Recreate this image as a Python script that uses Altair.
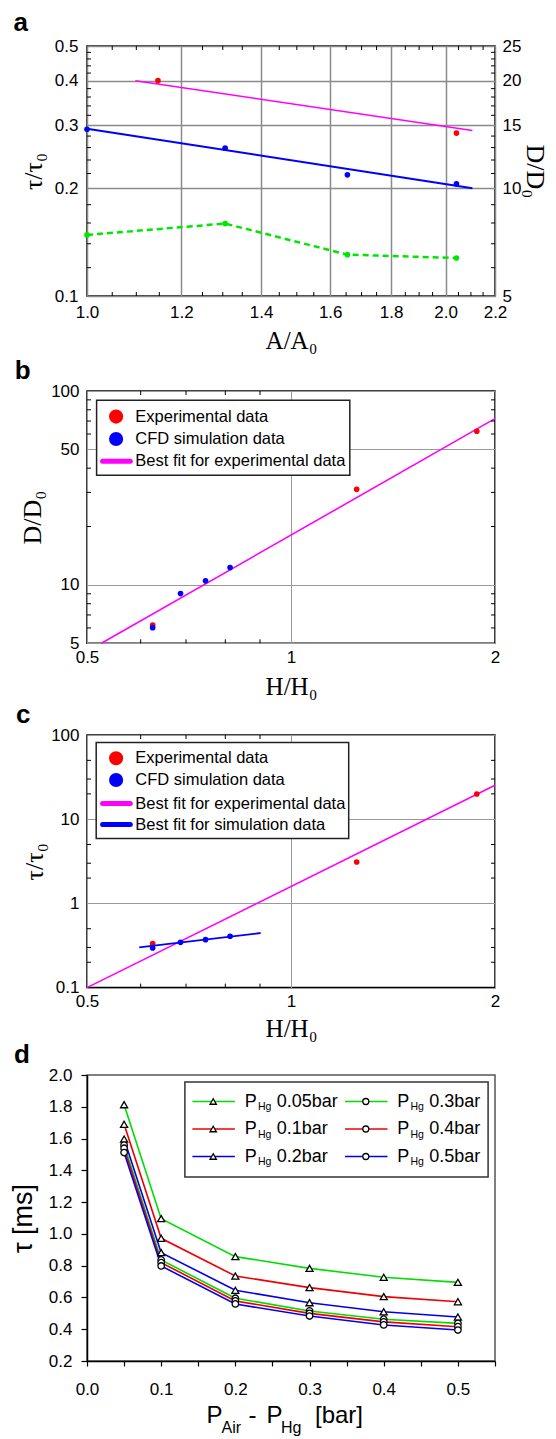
import altair as alt
import pandas as pd

SANS = "Liberation Sans, Arial, sans-serif"
SERIF = "Liberation Serif, DejaVu Serif, serif"
RED, BLUE, MAG, GRN = "#ff0000", "#0000ff", "#ff00ff", "#00e600"

# ================= data =================
# panel a
a_x = [1.0, 1.306, 1.654, 2.042]
a_tau_sim = [0.2925, 0.259, 0.2182, 0.2058]
a_tau_green = [0.1482, 0.1594, 0.1305, 0.1277]
a_x_exp = [1.147, 2.042]
a_D_exp = [20.0, 14.27]
a_fitD_x = [1.098, 2.106]
a_fitD = [20.0, 14.5]
a_fitT_x = [1.0, 2.106]
a_fitT = [0.2934, 0.2002]
a_xticks = [1.0, 1.2, 1.4, 1.6, 1.8, 2.0, 2.2]
a_yticks = [0.1, 0.2, 0.3, 0.4, 0.5]
a_Dticks = [5, 10, 15, 20, 25]
a_xminor = [1.05, 1.1, 1.15, 1.25, 1.3, 1.35, 1.45, 1.5, 1.55, 1.65, 1.7, 1.75,
            1.85, 1.9, 1.95, 2.05, 2.1, 2.15]
a_yminor = [0.12, 0.14, 0.16, 0.18, 0.22, 0.24, 0.26, 0.28, 0.32, 0.34, 0.36, 0.38,
            0.42, 0.44, 0.46, 0.48]
a_Dminor = [6, 7, 8, 9, 11, 12, 13, 14, 16, 17, 18, 19, 21, 22, 23, 24]

# panel b
b_exp_H = [0.625, 1.25, 1.88]
b_exp_D = [6.21, 31.1, 62.0]
b_sim_H = [0.625, 0.687, 0.748, 0.813]
b_sim_D = [6.02, 9.02, 10.5, 12.3]
b_fit_H = [0.525, 2.0]
b_fit_D = [5.0, 72.0]
b_xticks = [0.5, 1, 2]
b_yticks = [5, 10, 50, 100]
b_xminor = [0.6, 0.7, 0.8, 0.9]
b_yminor = [6, 7, 8, 9, 20, 30, 40, 60, 70, 80, 90]
b_legend = ["Experimental data", "CFD simulation data", "Best fit for experimental data"]

# panel c
c_exp_H = [0.625, 1.25, 1.88]
c_exp_tau = [0.333, 3.1, 19.9]
c_sim_H = [0.625, 0.687, 0.748, 0.813]
c_sim_tau = [0.295, 0.345, 0.371, 0.407]
c_fitexp_H = [0.5, 2.0]
c_fitexp_tau = [0.1, 25.3]
c_fitsim_H = [0.597, 0.902]
c_fitsim_tau = [0.30, 0.445]
c_yticks = [0.1, 1, 10, 100]
c_yminor = [0.2, 0.3, 0.5, 2, 3, 5, 20, 30, 50]
c_legend = ["Experimental data", "CFD simulation data",
            "Best fit for experimental data", "Best fit for simulation data"]

# panel d
d_dp = [0.05, 0.1, 0.2, 0.3, 0.4, 0.5]
d_series = ["0.05", "0.1", "0.2", "0.3", "0.4", "0.5"]
d_tau_005 = [1.813, 1.096, 0.857, 0.783, 0.727, 0.695]
d_tau_01 = [1.690, 0.972, 0.735, 0.662, 0.605, 0.573]
d_tau_02 = [1.597, 0.882, 0.645, 0.567, 0.510, 0.477]
d_tau_03 = [1.559, 0.836, 0.595, 0.515, 0.463, 0.437]
d_tau_04 = [1.539, 0.819, 0.578, 0.500, 0.446, 0.416]
d_tau_05 = [1.512, 0.798, 0.559, 0.483, 0.427, 0.395]
d_xticks = [round(0.05 * i, 2) for i in range(12)]
d_yticks = [round(0.2 * i, 1) for i in range(1, 11)]

# ================= styles / layout =================
W = 408
HA, HB, HC, HD = 250, 252.3, 252.6, 286
d_colors = ["#00dd00", "#ee0000", "#0000ee", "#00dd00", "#ee0000", "#0000ee"]
d_shapes = ["tri", "tri", "tri", "circ", "circ", "circ"]


def panel_label(letter, dx, dy):
    return alt.Chart(pd.DataFrame({"t": [letter]})).mark_text(
        font=SANS, fontSize=26, fontWeight="bold", align="left",
        baseline="alphabetic", color="black"
    ).encode(text="t:N", x=alt.value(dx), y=alt.value(dy))


def extent(top, bottom):
    """invisible marks that fix how far a panel reaches above and below its plot"""
    df = pd.DataFrame({"k": [0]})
    t = alt.Chart(df).mark_rule(strokeOpacity=0, opacity=0, strokeWidth=0.01).encode(
        x=alt.value(0), x2=alt.value(1), y=alt.value(top), y2=alt.value(top))
    b = alt.Chart(df).mark_rule(strokeOpacity=0, opacity=0, strokeWidth=0.01).encode(
        x=alt.value(0), x2=alt.value(1), y=alt.value(bottom), y2=alt.value(bottom))
    return [t, b]


def xminor(vals, scale, axis, H, L=4):
    df = pd.DataFrame({"v": vals})
    ex = alt.X("v:Q", scale=scale, axis=axis)
    bot = alt.Chart(df).mark_rule(color="black", strokeWidth=1).encode(
        x=ex, y=alt.value(H), y2=alt.value(H - L))
    top = alt.Chart(df).mark_rule(color="black", strokeWidth=1).encode(
        x=ex, y=alt.value(0), y2=alt.value(L))
    return [bot, top]


def yminor(vals, scale, axis, sides, L=4):
    df = pd.DataFrame({"v": vals})
    ey = alt.Y("v:Q", scale=scale, axis=axis)
    out = []
    if "left" in sides:
        out.append(alt.Chart(df).mark_rule(color="black", strokeWidth=1).encode(
            y=ey, x=alt.value(0), x2=alt.value(L)))
    if "right" in sides:
        out.append(alt.Chart(df).mark_rule(color="black", strokeWidth=1).encode(
            y=ey, x=alt.value(W), x2=alt.value(W - L)))
    return out


def bc_legend(labels, kinds, colors, box, rows):
    frame = alt.Chart(pd.DataFrame({"k": [0]})).mark_rect(
        fill="white", stroke="#222", strokeWidth=1.5
    ).encode(x=alt.value(box[0]), x2=alt.value(box[2]),
             y=alt.value(box[1]), y2=alt.value(box[3]))
    df = pd.DataFrame({"label": labels, "kind": kinds, "color": colors, "py": rows})
    df["cx"] = 29.1
    df["lx0"] = 15.6
    df["lx1"] = 43.3
    df["tx"] = 48.3
    PX = lambda f: alt.X(f, type="quantitative", scale=None, axis=None)
    PY = alt.Y("py:Q", scale=None, axis=None)
    CC = alt.Color("color:N", scale=None, legend=None)
    dots = alt.Chart(df).transform_filter(alt.datum.kind == "dot").mark_circle(
        size=200, opacity=1).encode(x=PX("cx"), y=PY, color=CC)
    lines = alt.Chart(df).transform_filter(alt.datum.kind == "line").mark_rule(
        strokeWidth=5, strokeCap="round").encode(x=PX("lx0"), x2="lx1:Q", y=PY, color=CC)
    texts = alt.Chart(df).mark_text(
        align="left", baseline="middle", font=SANS, fontSize=16.5, color="black"
    ).encode(x=PX("tx"), y=PY, text="label:N")
    return [frame, dots, lines, texts]


# ================= panel a =================
xa = alt.Scale(type="log", domain=[1.0, 2.2], nice=False)
ya = alt.Scale(type="log", domain=[0.1, 0.5], nice=False)
yDa = alt.Scale(type="log", domain=[5, 25], nice=False)
grid_a = dict(grid=True, gridColor="#8a8a8a", gridWidth=1.5, ticks=False, domain=False,
              labelFlush=False, labelOverlap=False)
ax_ax = alt.Axis(values=a_xticks, format=".1f", title="A/A₀", labelPadding=8,
                 titleFont=SERIF, titleFontSize=25, titleX=W / 2, titleY=32, **grid_a)
ax_ay = alt.Axis(values=a_yticks, format=".1f", title="τ/τ₀", labelPadding=9,
                 titleFont=SERIF, titleFontSize=26, titleX=-41, titleY=HA / 2, **grid_a)
ax_aD = alt.Axis(orient="right", values=a_Dticks, format="d", title="D/D₀", grid=False,
                 ticks=False, domain=False, labelPadding=7, labelFlush=False,
                 labelOverlap=False, titleFont=SERIF, titleFontSize=26,
                 titleX=26, titleY=HA / 2)

XA = alt.X("x:Q", scale=xa, axis=ax_ax)
YA = alt.Y("y:Q", scale=ya, axis=ax_ay)
YDA = alt.Y("y:Q", scale=yDa, axis=ax_aD)

a_left = alt.layer(
    alt.Chart(pd.DataFrame({"x": a_fitT_x, "y": a_fitT})).mark_line(
        color=BLUE, strokeWidth=2).encode(x=XA, y=YA),
    alt.Chart(pd.DataFrame({"x": a_x, "y": a_tau_sim})).mark_circle(
        color=BLUE, size=32, opacity=1).encode(x=XA, y=YA),
    alt.Chart(pd.DataFrame({"x": a_x, "y": a_tau_green})).mark_line(
        color=GRN, strokeWidth=2.5, strokeDash=[6, 4]).encode(x=XA, y=YA),
    alt.Chart(pd.DataFrame({"x": a_x, "y": a_tau_green})).mark_circle(
        color=GRN, size=32, opacity=1).encode(x=XA, y=YA),
    *xminor(a_xminor, xa, ax_ax, HA),
    *yminor(a_yminor, ya, ax_ay, ("left",)),
    panel_label("a", -73.5, -15.0),
    *extent(-37.0, HA + 58.7),
)
a_right = alt.layer(
    alt.Chart(pd.DataFrame({"x": a_fitD_x, "y": a_fitD})).mark_line(
        color=MAG, strokeWidth=1.5).encode(x=XA, y=YDA),
    alt.Chart(pd.DataFrame({"x": a_x_exp, "y": a_D_exp})).mark_circle(
        color=RED, size=32, opacity=1).encode(x=XA, y=YDA),
    *yminor(a_Dminor, yDa, ax_aD, ("right",)),
)
panel_a = alt.layer(a_left, a_right).resolve_scale(y="independent").properties(
    width=W, height=HA)

# ================= panel b =================
xH = alt.Scale(type="log", domain=[0.5, 2], nice=False)
yb = alt.Scale(type="log", domain=[5, 100], nice=False)
grid_bc = dict(grid=True, gridColor="#999999", gridWidth=1, ticks=False, domain=False,
               labelFlush=False, labelOverlap=False)
ax_bx = alt.Axis(values=b_xticks, format="~g", title="H/H₀", labelPadding=6,
                 titleFont=SERIF, titleFontSize=25, titleX=W / 2, titleY=31, **grid_bc)
ax_by = alt.Axis(values=b_yticks, format="~g", title="D/D₀", labelPadding=8,
                 titleFont=SERIF, titleFontSize=26, titleX=-42, titleY=HB / 2, **grid_bc)
XB = alt.X("x:Q", scale=xH, axis=ax_bx)
YB = alt.Y("y:Q", scale=yb, axis=ax_by)

panel_b = alt.layer(
    alt.Chart(pd.DataFrame({"x": b_fit_H, "y": b_fit_D})).mark_line(
        color=MAG, strokeWidth=1.6).encode(x=XB, y=YB),
    alt.Chart(pd.DataFrame({"x": b_exp_H, "y": b_exp_D})).mark_circle(
        color=RED, size=32, opacity=1).encode(x=XB, y=YB),
    alt.Chart(pd.DataFrame({"x": b_sim_H, "y": b_sim_D})).mark_circle(
        color=BLUE, size=32, opacity=1).encode(x=XB, y=YB),
    *xminor(b_xminor, xH, ax_bx, HB),
    *yminor(b_yminor, yb, ax_by, ("left", "right")),
    *bc_legend(b_legend, ["dot", "dot", "line"], [RED, BLUE, MAG],
               (9.6, 9.3, 262.8, 84.3), [25.6, 48.0, 70.3]),
    panel_label("b", -72.3, -11.7),
    *extent(-36, HB + 56.7),
).properties(width=W, height=HB)

# ================= panel c =================
yc = alt.Scale(type="log", domain=[0.1, 100], nice=False)
ax_cx = alt.Axis(values=b_xticks, format="~g", title="H/H₀", labelPadding=6,
                 titleFont=SERIF, titleFontSize=25, titleX=W / 2, titleY=28.5, **grid_bc)
ax_cy = alt.Axis(values=c_yticks, format="~g", title="τ/τ₀", labelPadding=8,
                 titleFont=SERIF, titleFontSize=26, titleX=-40, titleY=HC / 2, **grid_bc)
XC = alt.X("x:Q", scale=xH, axis=ax_cx)
YC = alt.Y("y:Q", scale=yc, axis=ax_cy)

panel_c = alt.layer(
    alt.Chart(pd.DataFrame({"x": c_fitexp_H, "y": c_fitexp_tau})).mark_line(
        color=MAG, strokeWidth=1.6).encode(x=XC, y=YC),
    alt.Chart(pd.DataFrame({"x": c_exp_H, "y": c_exp_tau})).mark_circle(
        color=RED, size=32, opacity=1).encode(x=XC, y=YC),
    alt.Chart(pd.DataFrame({"x": c_fitsim_H, "y": c_fitsim_tau})).mark_line(
        color=BLUE, strokeWidth=1.8).encode(x=XC, y=YC),
    alt.Chart(pd.DataFrame({"x": c_sim_H, "y": c_sim_tau})).mark_circle(
        color=BLUE, size=32, opacity=1).encode(x=XC, y=YC),
    *xminor(b_xminor, xH, ax_cx, HC),
    *yminor(c_yminor, yc, ax_cy, ("left", "right")),
    *bc_legend(c_legend, ["dot", "dot", "line", "line"], [RED, BLUE, MAG, BLUE],
               (9.2, 7.6, 261.7, 103.6), [23.3, 45.0, 68.6, 89.6]),
    panel_label("c", -71.0, -12.4),
    *extent(-35, HC + 53.7),
).properties(width=W, height=HC)

# ================= panel d =================
xd = alt.Scale(domain=[0, 0.55], nice=False, zero=False)
yd = alt.Scale(domain=[0.2, 2.0], nice=False, zero=False)
ax_dx = alt.Axis(values=d_xticks,
                 labelExpr="round(datum.value*100) % 10 == 0 ? format(datum.value, '.1f') : ''",
                 title=None, grid=False, tickSize=5, tickColor="black", tickWidth=1.2,
                 domainColor="black", domainWidth=1.5, labelPadding=15,
                 labelFlush=False, labelOverlap=False)
ax_dy = alt.Axis(values=d_yticks, format=".1f", title="τ [ms]", titleFont=SANS,
                 titleFontSize=27, titleX=-50, titleY=HD / 2, grid=False, tickSize=6,
                 tickColor="black", tickWidth=1.2, domainColor="black", domainWidth=1.5,
                 labelPadding=9, labelFlush=False, labelOverlap=False)
XD = alt.X("x:Q", scale=xd, axis=ax_dx)
YD = alt.Y("y:Q", scale=yd, axis=ax_dy)

d_tau = [d_tau_005, d_tau_01, d_tau_02, d_tau_03, d_tau_04, d_tau_05]
rows = []
for name, vals, shp in zip(d_series, d_tau, d_shapes):
    for xv, yv in zip(d_dp, vals):
        rows.append({"s": name, "x": xv, "y": yv, "shape": shp})
df_d = pd.DataFrame(rows)

d_lines = alt.Chart(df_d).mark_line(strokeWidth=1.6).encode(
    x=XD, y=YD,
    color=alt.Color("s:N", scale=alt.Scale(domain=d_series, range=d_colors), legend=None))
d_tri = alt.Chart(df_d).transform_filter(alt.datum.shape == "tri").mark_point(
    shape="triangle-up", filled=True, fill="white", stroke="black", strokeWidth=1.3,
    size=50, opacity=1).encode(x=XD, y=YD)
d_circ = alt.Chart(df_d).transform_filter(alt.datum.shape == "circ").mark_point(
    shape="circle", filled=True, fill="white", stroke="black", strokeWidth=1.3,
    size=42, opacity=1).encode(x=XD, y=YD)

# legend of panel d (built from the series lists)
leg = []
for i, (name, col, shp) in enumerate(zip(d_series, d_colors, d_shapes)):
    c0 = [105.4, 258.0][i // 3]
    ry = [26.5, 54.0, 81.5][i % 3]
    leg.append({"val": name + "bar", "color": col, "shape": shp,
                "lx0": c0, "lx1": c0 + 42.5, "mx": c0 + 20.8, "px": c0 + 52.3,
                "hx": c0 + 65.5, "vx": c0 + 84.3, "ly": ry, "ty": ry + 5.2,
                "sy": ry + 8.5, "P": "P", "Hg": "Hg"})
df_leg = pd.DataFrame(leg)
PXd = lambda f: alt.X(f, type="quantitative", scale=None, axis=None)
PYd = lambda f: alt.Y(f, type="quantitative", scale=None, axis=None)

d_leg_frame = alt.Chart(pd.DataFrame({"k": [0]})).mark_rect(
    fill="white", stroke="#333", strokeWidth=1.5
).encode(x=alt.value(97.9), x2=alt.value(401.1), y=alt.value(7), y2=alt.value(102))
d_leg_lines = alt.Chart(df_leg).mark_rule(strokeWidth=1.6).encode(
    x=PXd("lx0"), x2="lx1:Q", y=PYd("ly"), color=alt.Color("color:N", scale=None, legend=None))
d_leg_tri = alt.Chart(df_leg).transform_filter(alt.datum.shape == "tri").mark_point(
    shape="triangle-up", filled=True, fill="white", stroke="black", strokeWidth=1.3,
    size=40, opacity=1).encode(x=PXd("mx"), y=PYd("ly"))
d_leg_circ = alt.Chart(df_leg).transform_filter(alt.datum.shape == "circ").mark_point(
    shape="circle", filled=True, fill="white", stroke="black", strokeWidth=1.3,
    size=36, opacity=1).encode(x=PXd("mx"), y=PYd("ly"))
d_leg_P = alt.Chart(df_leg).mark_text(align="left", baseline="alphabetic", font=SANS,
                                      fontSize=18, color="black").encode(
    x=PXd("px"), y=PYd("ty"), text="P:N")
d_leg_Hg = alt.Chart(df_leg).mark_text(align="left", baseline="alphabetic", font=SANS,
                                       fontSize=10.5, color="black").encode(
    x=PXd("hx"), y=PYd("sy"), text="Hg:N")
d_leg_val = alt.Chart(df_leg).mark_text(align="left", baseline="alphabetic", font=SANS,
                                        fontSize=18, color="black").encode(
    x=PXd("vx"), y=PYd("ty"), text="val:N")

# x title of panel d with subscripts
d_xt = pd.DataFrame({
    "t": ["P", "Air", "-", "P", "Hg", "[bar]"],
    "fs": [24, 16, 24, 24, 16, 24],
    "tx": [119.5, 134.5, 161.5, 179.5, 194.0, 228.0],
    "ty": [HD + 62.3, HD + 72.0, HD + 62.3, HD + 62.3, HD + 72.0, HD + 62.3],
})
d_xtitle = alt.Chart(d_xt).mark_text(align="left", baseline="alphabetic", font=SANS,
                                     color="black").encode(
    x=PXd("tx"), y=PYd("ty"), text="t:N", size=alt.Size("fs:Q", scale=None, legend=None))

panel_d = alt.layer(
    d_lines, d_tri, d_circ,
    d_leg_frame, d_leg_lines, d_leg_tri, d_leg_circ, d_leg_P, d_leg_Hg, d_leg_val,
    d_xtitle,
    panel_label("d", -73.0, -11.7),
    *extent(-33, HD + 75),
).properties(width=W, height=HD, view=alt.ViewBackground(stroke="#555", strokeWidth=1.5))

# ================= assemble =================
chart = alt.vconcat(panel_a, panel_b, panel_c, panel_d, spacing=-2).properties(
    padding={"left": 0, "top": 0, "right": 0, "bottom": 0}
).configure_view(stroke="black", strokeWidth=1.5).configure_axis(
    labelFont=SANS, labelFontSize=17, labelColor="black", titleColor="black",
    titleFontWeight="normal"
)

chart.save("out.html", embed_options={"renderer": "svg", "actions": False})
